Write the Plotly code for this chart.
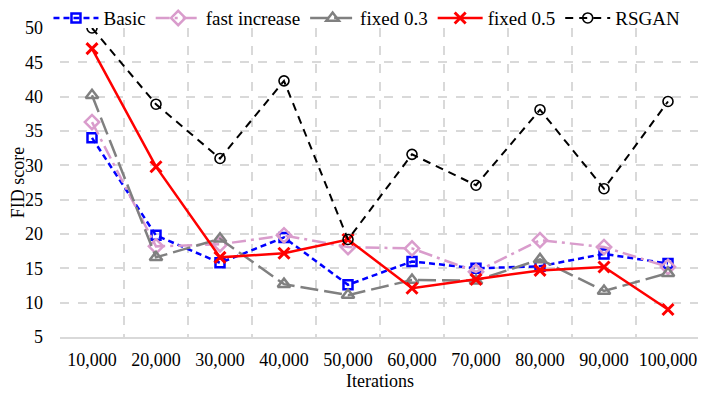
### Import packages into environment.
import plotly.graph_objects as go

# --------------------------------------------------------------------------- #
### Data.

iterations = ['10,000', '20,000', '30,000', '40,000', '50,000',
              '60,000', '70,000', '80,000', '90,000', '100,000']

basic = [34.0, 19.8, 15.8, 19.5, 12.6, 16.0, 15.0, 15.3, 17.1, 15.7]
fast_increase = [36.3, 18.2, 18.5, 19.8, 18.1, 17.9, 14.5, 19.1, 18.1, 15.2]
fixed_03 = [40.2, 16.6, 19.3, 12.7, 11.1, 13.3, 13.2, 16.3, 11.7, 14.3]
fixed_05 = [47.0, 29.8, 16.6, 17.2, 19.2, 12.1, 13.4, 14.7, 15.2, 9.0]
rsgan = [50.0, 38.9, 31.0, 42.3, 19.2, 31.6, 27.1, 38.1, 26.6, 39.3]

# --------------------------------------------------------------------------- #
### Build the traces.

fig = go.Figure()

fig.add_trace(go.Scatter(
    x=iterations, y=basic, name='Basic', mode='lines+markers',
    line=dict(color='#0000ff', width=2.5, dash='6px,4px'),
    marker=dict(symbol='square-open', size=9, color='#0000ff',
                line=dict(width=2.5, color='#0000ff'))))

fig.add_trace(go.Scatter(
    x=iterations, y=fast_increase, name='fast increase', mode='lines+markers',
    line=dict(color='#d99ccc', width=2.5, dash='14px,5px,3px,5px'),
    marker=dict(symbol='diamond-open', size=11, color='#d99ccc',
                line=dict(width=2.5, color='#d99ccc'))))

fig.add_trace(go.Scatter(
    x=iterations, y=fixed_03, name='fixed 0.3', mode='lines+markers',
    line=dict(color='#808080', width=2.5, dash='18px,6px'),
    marker=dict(symbol='triangle-up-open', size=11, color='#808080',
                line=dict(width=2.5, color='#808080'))))

fig.add_trace(go.Scatter(
    x=iterations, y=fixed_05, name='fixed 0.5', mode='lines+markers',
    line=dict(color='#ff0000', width=2.5),
    marker=dict(symbol='x-thin', size=11, color='#ff0000',
                line=dict(width=3, color='#ff0000'))))

fig.add_trace(go.Scatter(
    x=iterations, y=rsgan, name='RSGAN', mode='lines+markers',
    line=dict(color='#000000', width=2, dash='8px,6px'),
    marker=dict(symbol='circle-open', size=10, color='#000000',
                line=dict(width=1.6, color='#000000'))))

# --------------------------------------------------------------------------- #
### Layout.

font = dict(family='Liberation Serif, Times New Roman, serif', size=18,
            color='#000000')
legend_font = dict(font, size=19)

# The page body adds an 8px margin, so the figure is 8px smaller each way.
fig.update_layout(
    width=698, height=387,
    margin=dict(l=52, r=6, t=20, b=58, autoexpand=False),
    paper_bgcolor='white', plot_bgcolor='white',
    font=font,
    legend=dict(orientation='h', x=-0.018, xanchor='left', y=1.032,
                yanchor='middle', font=legend_font,
                bgcolor='rgba(0,0,0,0)', itemwidth=45, tracegroupgap=0),
    xaxis=dict(
        type='category', range=[-0.5, 9.5], tickson='boundaries', ticks='',
        tickangle=0, automargin=False, ticklabelstandoff=5,
        showgrid=True, gridcolor='#d9d9d9', gridwidth=2, griddash='dash',
        showline=True, linecolor='#d9d9d9', linewidth=2,
        title=dict(text='Iterations', font=font, standoff=6),
        tickfont=font),
    yaxis=dict(
        range=[5, 50], dtick=5, ticks='', automargin=False,
        ticklabelstandoff=16,
        showgrid=True, gridcolor='#d9d9d9', gridwidth=2, griddash='dash',
        zeroline=False, showline=False,
        title=dict(text='FID score', font=font, standoff=0),
        tickfont=font),
)

# Plot the data in html format.
fig.write_html('out.html')
